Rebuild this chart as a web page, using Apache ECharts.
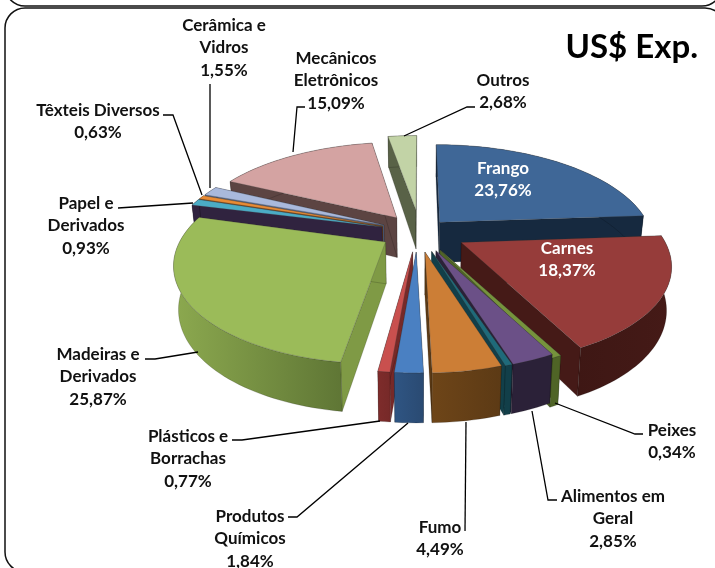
<!DOCTYPE html>
<html>
<head>
<meta charset="utf-8">
<style>html,body{margin:0;padding:0;background:#fff}#chart{width:715px;height:568px}</style>
<script src="https://cdn.jsdelivr.net/npm/echarts@6/dist/echarts.min.js"></script>
</head>
<body>
<div id="chart"></div>
<script>
// sector names, clockwise from the top; the teal sliver has no label in the source
var names = ['Frango','Carnes','Peixes','Alimentos em\nGeral','','Fumo','Produtos\nQuímicos','Plásticos e\nBorrachas','Madeiras e\nDerivados','Papel e\nDerivados','Têxteis Diversos','Cerâmica e\nVidros','Mecânicos\nEletrônicos','Outros'];
var values = [23.76,18.37,0.34,2.85,0.45,4.49,1.84,0.77,25.87,0.93,0.63,1.55,15.09,2.68];

var topColors = ['#3F6797','#963C3A','#76933C','#6B5087','#1F6A7A','#CC7E36','#4A80C2','#C9504E','#9BBB59','#4BACC6','#E98B35','#A9B9DC','#D4A3A2','#C2D3A6'];
var wallColors = [['#16293F','#16293F'],['#3E1714','#451A17'],['#4F6426','#4F6426'],['#2B2138','#2B2138'],['#123F49','#123F49'],['#6E4518','#5C3A15'],['#2F5583','#2A4A72'],['#7E2C2B','#762928'],['#8CA94F','#5F7635'],['#30233F','#30233F'],['#8A4F16','#8A4F16'],['#5A6A8A','#5A6A8A'],['#5C4442','#5C4442'],['#596247','#596247']];
var endWalls = {8:'#7F9A45'};

// per slice layout of the exploded pie: pull-out, radius, and nudge of the edges in degrees
var explode = [0.14,0.22,0.2,0.2,0.2,0.2,0.2,0.2,0.19,0.19,0.19,0.19,0.19,0.24];
var radius = [1.01,0.95,0.94,0.92,0.92,0.92,0.92,0.92,0.96,1,1,1,1,1.02];
var nudge = [[0,0],[0,1.5],[0,1],[-1,-1],[-2,-2],[-3,-3],[-3.5,-3.5],[-3.5,-3.5],[-3,1],[-0.5,0],[0,0],[0,0],[0,0],[0,0]];

// label centre (x, middle of first line) and leader line per slice
var labelPos = [[503,168,'#fff'],[567,248,'#fff'],[672,430],[613,496],null,[440,527],[250,516],[188,436],[98,354],[86,203],[98,110],[224,25],[336,58],[503,80]];
var leaders = [null,null,[[643,434],[635,434],[555,403]],[[557,500],[548,500],[532,411]],null,[[465,531],[466,422]],[[288,517],[297,517],[408,423]],[[232,440],[242,440],[380,421]],[[145,359],[155,359],[198,352]],[[118,208],[193,203]],[[163,115],[173,115],[202,195]],[[210,84],[210,188]],[[305,107],[297,107],[293,152]],[[475,107],[467,107],[404,136]]];

var cx = 420, cy = 232, Rx = 210, Ry = 96.6, q = 0.208;
var FONT = 'Lato';

function project(X, Y, drop) {
    var s = 1 / (1 + q * Y);
    // the underside is further from the eye, so it pulls in towards the middle
    return [cx + Rx * X * s * (1 - 0.02 * drop), cy - Ry * Y * s + drop * (41 - 8 * Y)];
}

var total = 0, i;
for (i = 0; i < values.length; i++) total += values[i];
var starts = [], run = 0;
for (i = 0; i < values.length; i++) { starts.push(run); run += values[i]; }

// back slices first
var order = values.map(function (v, k) { return k; }).sort(function (a, b) {
    var ma = (starts[a] + values[a] / 2) / total * 2 * Math.PI;
    var mb = (starts[b] + values[b] / 2) / total * 2 * Math.PI;
    return Math.cos(mb) - Math.cos(ma);
});

function renderSlice(params, api) {
    var k = api.value(0);
    var base0 = api.value(1) / total * 2 * Math.PI;
    var base1 = base0 + api.value(2) / total * 2 * Math.PI;
    var mid = (base0 + base1) / 2, e = explode[k], r = radius[k];
    var a0 = base0 + nudge[k][0] * Math.PI / 180, a1 = base1 + nudge[k][1] * Math.PI / 180;
    var ax = e * Math.sin(mid), ay = e * Math.cos(mid);
    var n = Math.max(2, Math.ceil((a1 - a0) / 0.03));
    var arcT = [], arcB = [], j;
    for (j = 0; j <= n; j++) {
        var t = a0 + (a1 - a0) * j / n;
        arcT.push(project(ax + r * Math.sin(t), ay + r * Math.cos(t), 0));
        arcB.push(project(ax + r * Math.sin(t), ay + r * Math.cos(t), 1));
    }
    var apexT = project(ax, ay, 0), apexB = project(ax, ay, 1);
    var grad = new echarts.graphic.LinearGradient(0, 0, 1, 0, [
        {offset: 0, color: wallColors[k][0]}, {offset: 1, color: wallColors[k][1]}
    ]);
    var wallFill = endWalls[k] || wallColors[k][1];
    var stroke = 'rgba(0,0,0,0.28)';
    return {type: 'group', children: [
        {type: 'polygon', shape: {points: [apexT, arcT[0], arcB[0], apexB]}, style: {fill: wallFill, stroke: stroke, lineWidth: 0.6}},
        {type: 'polygon', shape: {points: [apexT, arcT[n], arcB[n], apexB]}, style: {fill: wallFill, stroke: stroke, lineWidth: 0.6}},
        {type: 'polygon', shape: {points: arcT.concat(arcB.slice().reverse())}, style: {fill: grad, stroke: stroke, lineWidth: 0.6}},
        {type: 'polygon', shape: {points: [apexT].concat(arcT)}, style: {fill: topColors[k], stroke: 'rgba(70,70,70,0.45)', lineWidth: 0.6}}
    ]};
}

var graphics = [
    {type: 'rect', shape: {x: 5, y: -40, width: 717, height: 46, r: 20}, style: {fill: 'none', stroke: '#111', lineWidth: 1.5}},
    {type: 'rect', shape: {x: 5, y: 8, width: 720, height: 564, r: 20}, style: {fill: 'none', stroke: '#111', lineWidth: 1.5}}
];
leaders.forEach(function (l) {
    if (l) graphics.push({type: 'polyline', z: 20, shape: {points: l}, style: {fill: 'none', stroke: '#000', lineWidth: 1.3}});
});
names.forEach(function (name, k) {
    if (!labelPos[k]) return;
    graphics.push({
        type: 'text', z: 21, x: labelPos[k][0], y: labelPos[k][1] - 11,
        style: {
            text: name + '\n' + values[k].toFixed(2).replace('.', ',') + '%',
            font: 'bold 17px ' + FONT, lineHeight: 22.5, align: 'center', verticalAlign: 'top',
            fill: labelPos[k][2] || '#111'
        }
    });
});

var chart = echarts.init(document.getElementById('chart'), null, {renderer: 'canvas'});
chart.setOption({
    animation: false,
    backgroundColor: '#fff',
    title: {
        text: 'US$ Exp.', right: 12, top: 26,
        textStyle: {fontFamily: FONT, fontWeight: 'bold', fontSize: 33, color: '#000'}
    },
    graphic: graphics,
    series: [{
        type: 'custom',
        coordinateSystem: 'none',
        silent: true,
        renderItem: renderSlice,
        data: order.map(function (k) { return [k, starts[k], values[k]]; })
    }]
});
</script>
</body>
</html>
